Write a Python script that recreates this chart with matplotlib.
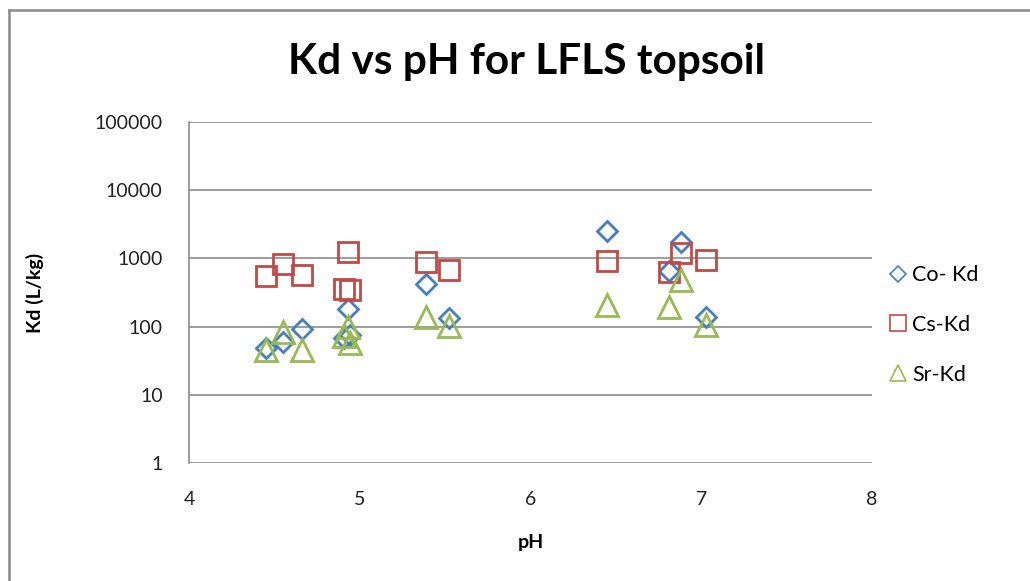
import matplotlib
matplotlib.use("Agg")
import matplotlib.pyplot as plt
from matplotlib.lines import Line2D

plt.rcParams['font.family'] = ['Lato', 'DejaVu Sans']

# Sample measurements: soil pH and distribution coefficients (L/kg)
ph = [4.45, 4.55, 4.66, 4.93, 4.91, 4.94, 5.39, 5.52, 6.45, 6.81, 6.88, 7.03]
co_kd = [48, 60, 92, 180, 68, 75, 420, 135, 2550, 650, 1750, 137]
cs_kd = [550, 840, 570, 1240, 355, 345, 900, 680, 920, 640, 1200, 950]
sr_kd = [45, 84, 45, 100, 72, 57, 137, 102, 207, 192, 480, 106]

series_names = ["Co- Kd", "Cs-Kd", "Sr-Kd"]
x_ticks = [4, 5, 6, 7, 8]
y_ticks = [1, 10, 100, 1000, 10000, 100000]

blue = "#4A7EBB"
red = "#BE4B48"
green = "#98B954"
grid_grey = "#8C8C8C"

fig = plt.figure(figsize=(10.30, 5.81), dpi=100)
ax = fig.add_axes([189 / 1030, 1 - 463 / 581, (872 - 189) / 1030, (463 - 122) / 581])

ax.set_yscale("log")
ax.set_xlim(4, 8)
ax.set_ylim(1, 100000)

ax.plot(ph, co_kd, linestyle="none", marker="D", markersize=10.5,
        markerfacecolor="none", markeredgecolor=blue, markeredgewidth=2.0)
ax.plot(ph, cs_kd, linestyle="none", marker="s", markersize=14,
        markerfacecolor="none", markeredgecolor=red, markeredgewidth=2.0)
ax.plot(ph, sr_kd, linestyle="none", marker="^", markersize=15.5,
        markerfacecolor="none", markeredgecolor=green, markeredgewidth=2.0)

ax.set_xticks(x_ticks)
ax.set_xticklabels([str(t) for t in x_ticks])
ax.set_yticks(y_ticks)
ax.set_yticklabels([str(t) for t in y_ticks])
ax.minorticks_off()
ax.tick_params(axis="both", length=0, labelsize=14, colors="#222222")
ax.tick_params(axis="x", pad=20)
ax.tick_params(axis="y", pad=19)

for t in y_ticks:
    ax.axhline(t, color=grid_grey, linewidth=1.2, zorder=0)

for side in ["top", "right", "bottom"]:
    ax.spines[side].set_visible(False)
ax.spines["left"].set_color(grid_grey)
ax.spines["left"].set_linewidth(1.2)

ax.set_xlabel("pH", fontsize=14, fontweight="bold", labelpad=19)
ax.set_ylabel("Kd (L/kg)", fontsize=14, fontweight="bold", labelpad=36)

fig.text(0.5115, 1 - 62 / 581, "Kd vs pH for LFLS topsoil", ha="center", va="center",
         fontsize=30.5, fontweight="bold")

handles = [
    Line2D([], [], linestyle="none", marker="D", markersize=8,
           markerfacecolor="none", markeredgecolor=blue, markeredgewidth=1.2),
    Line2D([], [], linestyle="none", marker="s", markersize=11,
           markerfacecolor="none", markeredgecolor=red, markeredgewidth=1.2),
    Line2D([], [], linestyle="none", marker="^", markersize=12,
           markerfacecolor="none", markeredgecolor=green, markeredgewidth=1.2),
]
fig.legend(handles, series_names, loc="center left",
           bbox_to_anchor=(869 / 1030, 1 - 325 / 581), frameon=False,
           fontsize=15.5, labelspacing=1.38, handlelength=0.9, handletextpad=0.2)

# Chart border (top and left edges)
fig.add_artist(Line2D([9 / 1030, 9 / 1030], [0, 1 - 10 / 581], transform=fig.transFigure,
                      color="#8A8A8A", linewidth=1.8))
fig.add_artist(Line2D([9 / 1030, 1], [1 - 10 / 581, 1 - 10 / 581], transform=fig.transFigure,
                      color="#8A8A8A", linewidth=1.8))

fig.savefig("out.png", dpi=100)
